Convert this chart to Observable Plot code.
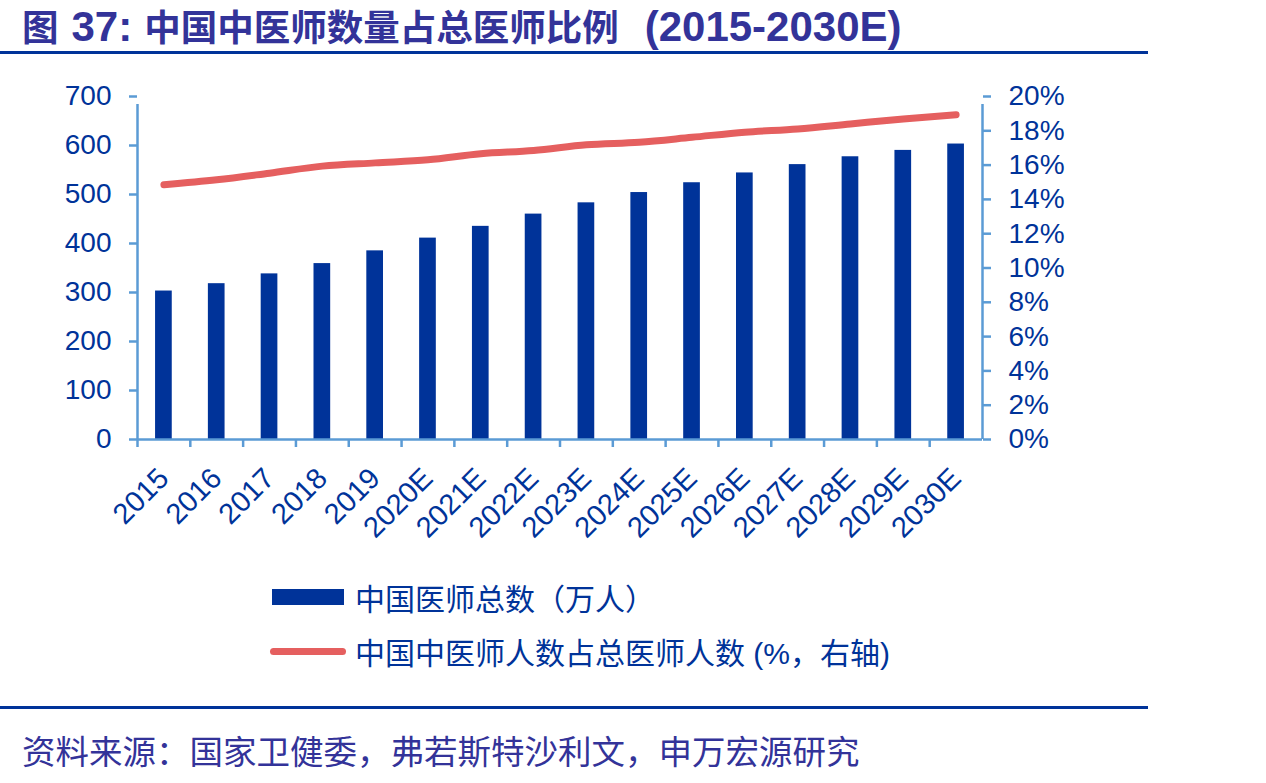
<!DOCTYPE html>
<html>
<head>
<meta charset="utf-8">
<script src="https://cdn.jsdelivr.net/npm/d3@7"></script>
<script src="https://cdn.jsdelivr.net/npm/@observablehq/plot@0.6"></script>
<style>
  html, body { margin: 0; padding: 0; background: #fff; }
  #page { position: relative; width: 1266px; height: 783px; overflow: hidden; font-family: "Noto Sans CJK SC", sans-serif; }
  .title { position: absolute; left: 22px; top: 2px; font-size: 36.5px; font-weight: 700; color: #333399; white-space: nowrap; line-height: 48px; }
  .title .latin { font-family: "Liberation Sans", Arial, sans-serif; font-size: 42px; font-weight: 700; }
  .rule { position: absolute; left: 0; width: 1148px; height: 3px; background: #003399; }
  #chart { position: absolute; left: 0; top: 60px; }
  .legend-item { position: absolute; left: 270px; height: 40px; display: flex; align-items: center; white-space: nowrap; font-size: 30px; color: #003399; }
  .legend-item .latin { font-family: "Liberation Sans", Arial, sans-serif; }
  .swatch-bar { width: 72px; height: 16px; background: #003399; margin-left: 2px; margin-right: 11px; }
  .swatch-line { width: 76px; height: 7px; border-radius: 4px; background: #e55f5f; margin-right: 9px; }
  .source { position: absolute; left: 22px; top: 726px; font-size: 33.5px; color: #333399; white-space: nowrap; line-height: 48px; }
</style>
</head>
<body>
<div id="page">
  <div class="title">图<span class="latin" style="margin-left:13px">37:</span><span style="margin-left:12px">中国中医师数量占总医师比例</span><span class="latin" style="margin-left:26px">(2015-2030E)</span></div>
  <div class="rule" style="top:51px"></div>
  <div id="chart"></div>
  <div class="legend-item" style="top:577px"><div class="swatch-bar"></div><span>中国医师总数（万人）</span></div>
  <div class="legend-item" style="top:631px"><div class="swatch-line"></div><span>中国中医师人数占总医师人数<span class="latin"> (%</span>，右轴<span class="latin">)</span></span></div>
  <div class="rule" style="top:706px"></div>
  <div class="source">资料来源：国家卫健委，弗若斯特沙利文，申万宏源研究</div>
</div>
<script>
// Years on the category axis
const years = ["2015", "2016", "2017", "2018", "2019", "2020E", "2021E", "2022E",
  "2023E", "2024E", "2025E", "2026E", "2027E", "2028E", "2029E", "2030E"];
// Total number of physicians in China (10k people), left axis
const totalDoctors = [303, 318, 338, 359, 385, 411, 435, 460, 483, 504, 524, 544, 561, 577, 590, 603];
// Share of TCM physicians among all physicians (%), right axis
const tcmShare = [14.85, 15.14, 15.53, 15.94, 16.13, 16.31, 16.66, 16.85, 17.18, 17.33, 17.62, 17.92, 18.11, 18.40, 18.69, 18.93];
// Axis ticks
const leftTicks = [0, 100, 200, 300, 400, 500, 600, 700];
const rightTicks = [0, 2, 4, 6, 8, 10, 12, 14, 16, 18, 20];

const table = years.map((year, i) => ({year, doctors: totalDoctors[i], share: tcmShare[i]}));

const width = 1266, height = 500;
const marginLeft = 137, marginRight = 284, marginTop = 36, marginBottom = 121;
const step = (width - marginLeft - marginRight) / years.length;
// The right axis (0–20%) shares the left axis range (0–700)
const k = 700 / 20;

const axisColor = "#5b9bd5";
const textColor = "#003399";

const chart = Plot.plot({
  width, height, marginLeft, marginRight, marginTop, marginBottom,
  style: {fontFamily: "'Liberation Sans', Arial, sans-serif", fontSize: "28px", background: "#fff", overflow: "visible"},
  x: {domain: years, paddingInner: 0.684, paddingOuter: 0.342, round: false, axis: null, label: null},
  y: {domain: [0, 700], axis: null, label: null},
  marks: [
    Plot.barY(table, {x: "year", y: "doctors", fill: "#003399"}),
    // baseline and category boundary ticks
    Plot.ruleY([0], {stroke: axisColor, strokeWidth: 2.5}),
    Plot.ruleX(years, {x: d => d, dx: -step / 2, y1: 0, y2: 0, insetBottom: -8, stroke: axisColor, strokeWidth: 2.5}),
    // left and right axis lines
    Plot.ruleX([years[0]], {x: d => d, dx: -step / 2, y1: 0, y2: 700, insetBottom: -8, stroke: axisColor, strokeWidth: 2.5}),
    Plot.ruleX([years[years.length - 1]], {x: d => d, dx: step / 2, y1: 0, y2: 700, insetBottom: -8, stroke: axisColor, strokeWidth: 2.5}),
    Plot.axisY({anchor: "left", ticks: leftTicks, tickSize: 8, tickPadding: 18, stroke: axisColor, strokeWidth: 2.5, fill: textColor, fontSize: 28, label: null}),
    Plot.axisY({anchor: "right", ticks: rightTicks.map(v => v * k), tickFormat: v => `${Math.round(v / k)}%`, tickSize: 8, tickPadding: 18, stroke: axisColor, strokeWidth: 2.5, fill: textColor, fontSize: 28, label: null}),
    Plot.axisX({anchor: "bottom", tickSize: 0, tickRotate: -45, tickPadding: 34, fill: textColor, fontSize: 29, label: null}),
    Plot.line(table, {x: "year", y: d => d.share * k, stroke: "#e55f5f", strokeWidth: 7, strokeLinecap: "round", strokeLinejoin: "round", curve: "monotone-x"})
  ]
});

document.getElementById("chart").appendChild(chart);
</script>
</body>
</html>
